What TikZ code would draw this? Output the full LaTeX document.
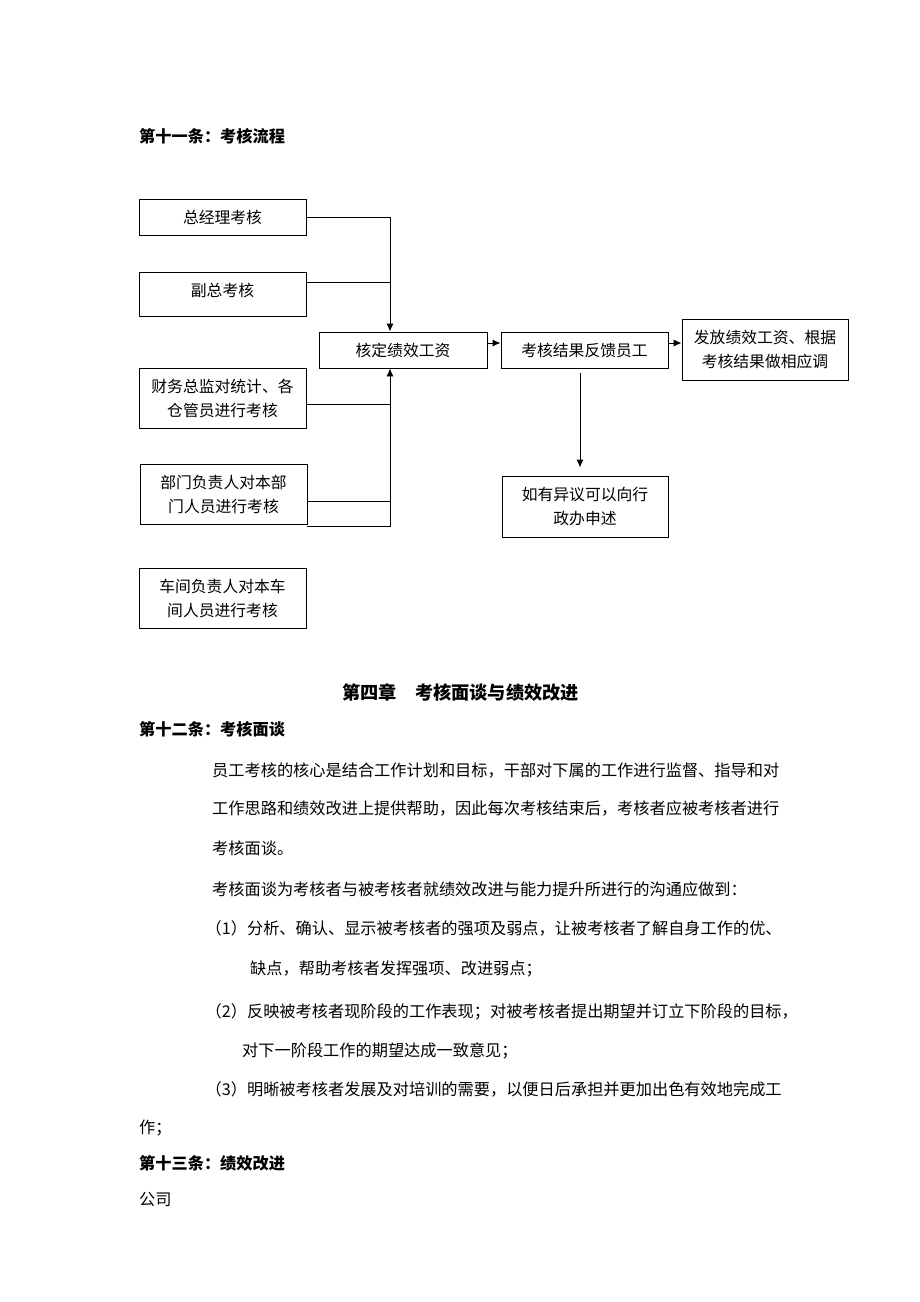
\documentclass[tikz,border=0pt]{standalone}
\usepackage{fontspec}
\newfontfamily\cjk{Noto Sans CJK SC}
\usetikzlibrary{arrows.meta}
\begin{document}
\begin{tikzpicture}[x=1pt,y=-1pt,
  box/.style={draw, line width=0.9pt, inner sep=0pt, align=center,
    font=\cjk\fontsize{15.8}{24}\selectfont},
  body/.style={anchor=base west, inner sep=0pt, font=\cjk\fontsize{16.2}{20}\selectfont},
  head/.style={anchor=base west, inner sep=0pt, font=\cjk\bfseries\fontsize{16.2}{20}\selectfont},
  link/.style={line width=0.9pt},
  arr/.style={link, -{Latex[length=8pt,width=7pt]}}]
\fill[white] (0,0) rectangle (920,1302);
\useasboundingbox (0,0) rectangle (920,1302);

% heading
\node[head] (t1) at (139,142) {第十一条：考核流程};

% flowchart boxes
\node[box, minimum width=167pt, minimum height=36pt] (a) at (222.5,217) {总经理考核};
\node[box, minimum width=167pt, minimum height=44pt] (b) at (222.5,294) {\raisebox{8pt}{副总考核}};
\node[box, minimum width=167pt, minimum height=60pt] (c) at (222.5,398) {财务总监对统计、各\\仓管员进行考核};
\node[box, minimum width=167pt, minimum height=60pt] (d) at (223.5,494) {部门负责人对本部\\门人员进行考核};
\node[box, minimum width=167pt, minimum height=60pt] (e) at (222.5,598) {车间负责人对本车\\间人员进行考核};
\node[box, minimum width=168pt, minimum height=36pt] (k) at (403,350) {核定绩效工资};
\node[box, minimum width=167pt, minimum height=36pt] (f) at (584.5,350) {考核结果反馈员工};
\node[box, minimum width=166pt, minimum height=61pt] (g) at (765,349.5) {发放绩效工资、根据\\考核结果做相应调};
\node[box, minimum width=166pt, minimum height=61pt] (h) at (585,506.5) {如有异议可以向行\\政办申述};

% connectors
\coordinate (kt) at ([xshift=-13pt]k.north);
\coordinate (kb) at ([xshift=-13pt]k.south);
\draw[arr] (a.east) -| (kt);
\coordinate (bp) at ([yshift=12pt]b.east);
\draw[link] (bp) -- (bp -| kt);
\coordinate (cp) at ([yshift=-6pt]c.east);
\draw[link] (cp) -- (cp -| kt);
\coordinate (dp) at ([yshift=-7pt]d.east);
\draw[link] (dp) -- (dp -| kt);
\coordinate (dq) at ([yshift=-2pt]d.south east);
\draw[arr] (dq) -| (kb);
\coordinate (kr) at ([yshift=7pt]k.east);
\draw[arr] (kr) -- (kr -| f.west);
\coordinate (fr) at ([yshift=7pt]f.east);
\draw[arr] (fr) -- (fr -| g.west);
\coordinate (fs) at ([xshift=-4.5pt,yshift=-5pt]f.south);
\coordinate (ht) at ([xshift=-5pt,yshift=8pt]h.north);
\draw[arr] (fs) -- (fs |- ht);

% chapter text
\node[anchor=base, inner sep=0pt, font=\cjk\bfseries\fontsize{18.2}{22}\selectfont] (ch) at (460.5,699) {第四章　考核面谈与绩效改进};
\node[head] (s12) at (139,735) {第十二条：考核面谈};
\node[body] (p1) at (212,776) {员工考核的核心是结合工作计划和目标，干部对下属的工作进行监督、指导和对};
\node[body] (p2) at (212,814) {工作思路和绩效改进上提供帮助，因此每次考核结束后，考核者应被考核者进行};
\node[body] (p3) at (212,854) {考核面谈。};
\node[body] (p4) at (212,895) {考核面谈为考核者与被考核者就绩效改进与能力提升所进行的沟通应做到：};
\node[body] (p5) at (205.5,934) {（1）分析、确认、显示被考核者的强项及弱点，让被考核者了解自身工作的优、};
\node[body] (p6) at (250,974) {缺点，帮助考核者发挥强项、改进弱点；};
\node[body] (p7) at (205.5,1017) {（2）反映被考核者现阶段的工作表现；对被考核者提出期望并订立下阶段的目标，};
\node[body] (p8) at (242,1056) {对下一阶段工作的期望达成一致意见；};
\node[body] (p9) at (205.5,1095) {（3）明晰被考核者发展及对培训的需要，以便日后承担并更加出色有效地完成工};
\node[body] (p10) at (139,1133) {作；};
\node[head] (s13) at (139,1169) {第十三条：绩效改进};
\node[body] (p11) at (139,1205) {公司};
\end{tikzpicture}
\end{document}
